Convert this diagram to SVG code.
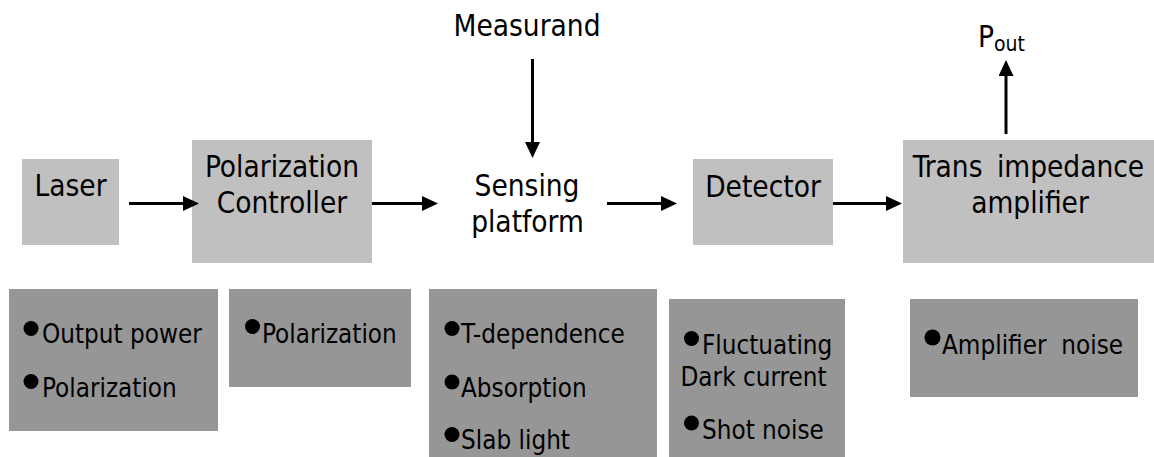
<svg xmlns="http://www.w3.org/2000/svg" width="1154" height="457" viewBox="0 0 1154 457">
<style>
text{font-family:"DejaVu Sans Condensed","DejaVu Sans",sans-serif;font-stretch:condensed;fill:#000}
.lbl{font-size:29.5px;text-anchor:middle}
.item{font-size:25.8px;white-space:pre}
.node{fill:#C0C0C0}
.note{fill:#969696}
.conn{stroke:#000;stroke-width:3;fill:none;marker-end:url(#arr)}
.dot{fill:#000}
</style>
<defs>
<marker id="arr" markerUnits="userSpaceOnUse" markerWidth="16" markerHeight="15" refX="6" refY="7.5" orient="auto">
<path d="M0,0 L16,7.5 L0,15 z" fill="#000"/>
</marker>
</defs>
<rect width="1154" height="457" fill="#fff"/>

<g id="laser">
<rect class="node" x="22" y="159" width="97" height="86"/>
<text class="lbl" x="70.5" y="196">Laser</text>
</g>
<g id="polarization-controller">
<rect class="node" x="192" y="140" width="180" height="123"/>
<text class="lbl" x="282" y="177">Polarization</text>
<text class="lbl" x="282" y="213">Controller</text>
</g>
<g id="measurand">
<text class="lbl" x="527" y="36">Measurand</text>
</g>
<g id="sensing-platform">
<text class="lbl" x="527" y="196">Sensing</text>
<text class="lbl" x="527.5" y="232">platform</text>
</g>
<g id="detector">
<rect class="node" x="693" y="159" width="140" height="86"/>
<text class="lbl" x="763" y="196.5">Detector</text>
</g>
<g id="tia">
<rect class="node" x="903" y="140" width="251" height="123"/>
<text class="lbl" x="1028.5" y="177" style="word-spacing:6px">Trans impedance</text>
<text class="lbl" x="1030" y="213">amplifier</text>
</g>
<g id="pout">
<text x="978" y="46.5" style="font-size:29.5px">P<tspan style="font-size:21px" dy="4">out</tspan></text>
</g>

<g id="connectors">
<line class="conn" x1="129" y1="203.5" x2="189" y2="203.5"/>
<line class="conn" x1="372" y1="203.5" x2="428" y2="203.5"/>
<line class="conn" x1="607" y1="203.5" x2="667" y2="203.5"/>
<line class="conn" x1="833" y1="203.5" x2="892" y2="203.5"/>
<line class="conn" x1="532.5" y1="59" x2="532.5" y2="148"/>
<line class="conn" x1="1006" y1="134" x2="1006" y2="70"/>
</g>

<g id="laser-noise">
<rect class="note" x="9" y="289" width="209" height="142"/>
<circle class="dot" cx="31" cy="328.5" r="7.5"/>
<text class="item" x="42" y="343">Output power</text>
<circle class="dot" cx="31" cy="381.5" r="7.5"/>
<text class="item" x="42" y="397">Polarization</text>
</g>
<g id="controller-noise">
<rect class="note" x="229" y="289" width="182" height="98"/>
<circle class="dot" cx="252.5" cy="326.5" r="7.5"/>
<text class="item" x="262" y="343">Polarization</text>
</g>
<g id="sensing-noise">
<rect class="note" x="429" y="289" width="228" height="168"/>
<circle class="dot" cx="452" cy="328.5" r="7.5"/>
<text class="item" x="461" y="343">T-dependence</text>
<circle class="dot" cx="452" cy="382" r="7.5"/>
<text class="item" x="461" y="397">Absorption</text>
<circle class="dot" cx="452" cy="434.5" r="7.5"/>
<text class="item" x="461" y="449">Slab light</text>
</g>
<g id="detector-noise">
<rect class="note" x="669" y="299" width="176" height="158"/>
<circle class="dot" cx="691.5" cy="338.5" r="7.5"/>
<text class="item" x="702" y="354">Fluctuating</text>
<text class="item" x="680.5" y="385.5">Dark current</text>
<circle class="dot" cx="691.5" cy="423" r="7.5"/>
<text class="item" x="702" y="438.5">Shot noise</text>
</g>
<g id="amplifier-noise">
<rect class="note" x="910" y="299" width="228" height="98"/>
<circle class="dot" cx="932.5" cy="337.5" r="8"/>
<text class="item" x="942" y="353.5">Amplifier  noise</text>
</g>
</svg>
